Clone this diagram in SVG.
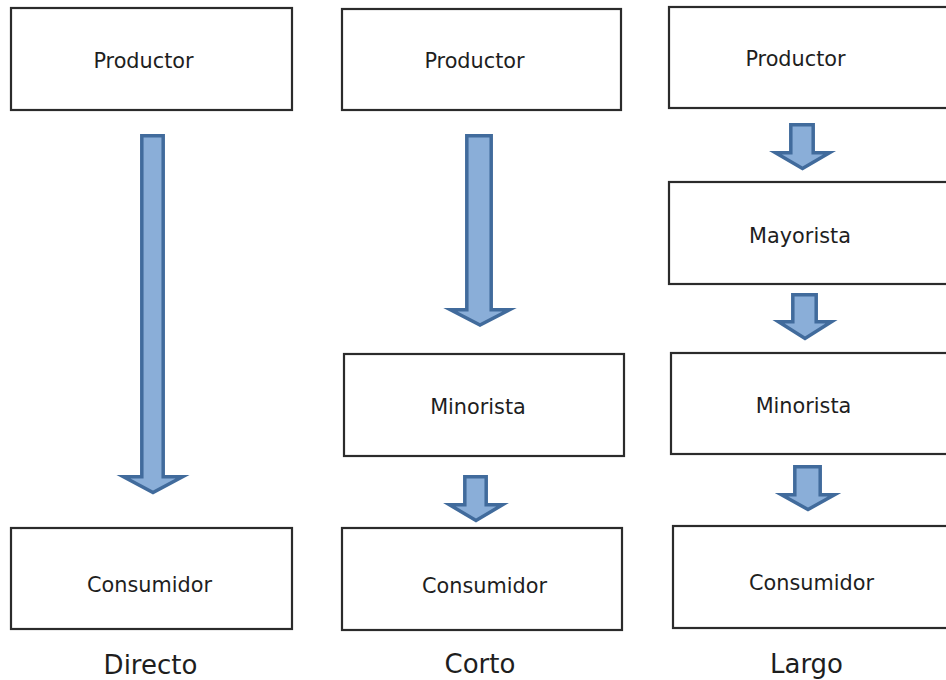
<svg xmlns="http://www.w3.org/2000/svg" width="946" height="680" viewBox="0 0 946 680">
<style>
.box{fill:#fff;stroke:#2b2b2b;stroke-width:2.2}
.lbl{font-family:"DejaVu Sans",Verdana,sans-serif;font-size:20.8px;fill:#1e1e1e;text-anchor:middle}
.cap{font-family:"DejaVu Sans",Verdana,sans-serif;font-size:26px;fill:#1e1e1e;text-anchor:middle}
.arr{fill:#8aaed8;stroke:#416b9c;stroke-width:3.5;stroke-linejoin:miter;stroke-miterlimit:10}
</style>
<rect width="946" height="680" fill="#fff"/>
<g id="connectors">
<path class="arr" d="M141.8,135.8 L163.2,135.8 L163.2,476.8 L182.5,476.8 L153,492.5 L123.5,476.8 L141.8,476.8 Z"/>
<path class="arr" d="M466.8,135.8 L491.2,135.8 L491.2,309.8 L509.5,309.8 L480,325 L450.5,309.8 L466.8,309.8 Z"/>
<path class="arr" d="M464.8,476.8 L486.2,476.8 L486.2,504.8 L502.5,504.8 L476,520.5 L449.5,504.8 L464.8,504.8 Z"/>
<path class="arr" d="M790.8,124.8 L813.2,124.8 L813.2,152.8 L829.5,152.8 L802.5,168.5 L775.5,152.8 L790.8,152.8 Z"/>
<path class="arr" d="M792.8,294.8 L816.2,294.8 L816.2,321.8 L831.5,321.8 L805,338.5 L778.5,321.8 L792.8,321.8 Z"/>
<path class="arr" d="M794.8,466.8 L820.2,466.8 L820.2,494.8 L834.5,494.8 L808,509.5 L781.5,494.8 L794.8,494.8 Z"/>
</g>
<g id="directo-productor"><rect class="box" x="11" y="8" width="281" height="102"/><text class="lbl" x="143.5" y="68">Productor</text></g>
<g id="directo-consumidor"><rect class="box" x="11" y="528" width="281" height="101"/><text class="lbl" x="149.5" y="592">Consumidor</text></g>
<g id="corto-productor"><rect class="box" x="342" y="9" width="279" height="101"/><text class="lbl" x="474.5" y="68">Productor</text></g>
<g id="corto-minorista"><rect class="box" x="344" y="354" width="280" height="102"/><text class="lbl" x="478" y="414">Minorista</text></g>
<g id="corto-consumidor"><rect class="box" x="342" y="528" width="280" height="102"/><text class="lbl" x="484.5" y="593">Consumidor</text></g>
<g id="largo-productor"><rect class="box" x="669" y="7" width="300" height="101"/><text class="lbl" x="795.5" y="66">Productor</text></g>
<g id="largo-mayorista"><rect class="box" x="669" y="182" width="300" height="102"/><text class="lbl" x="800" y="243">Mayorista</text></g>
<g id="largo-minorista"><rect class="box" x="671" y="353" width="300" height="101"/><text class="lbl" x="803.5" y="413">Minorista</text></g>
<g id="largo-consumidor"><rect class="box" x="673" y="526" width="300" height="102"/><text class="lbl" x="811.5" y="590">Consumidor</text></g>
<g id="captions">
<text class="cap" x="150.5" y="674">Directo</text>
<text class="cap" x="480" y="673">Corto</text>
<text class="cap" x="806.5" y="673">Largo</text>
</g>
</svg>
